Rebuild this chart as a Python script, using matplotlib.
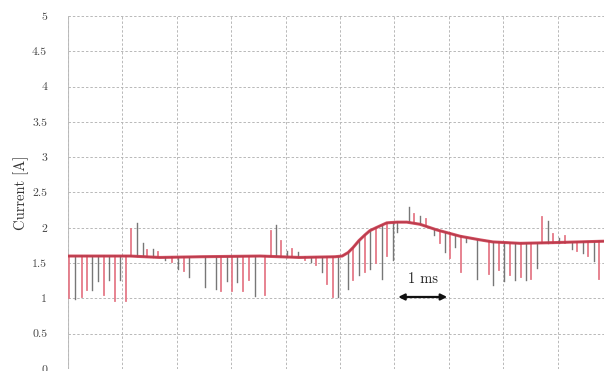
import matplotlib
matplotlib.use("Agg")
import matplotlib.pyplot as plt

# baseline of the current trace (time in ms, current in A)
base_t = [0.0, 1.14, 1.69, 2.43, 3.53, 4.26, 4.91, 5.04, 5.15, 5.24, 5.35, 5.46,
          5.55, 5.66, 5.86, 6.05, 6.23, 6.47, 6.78, 7.02, 7.21, 7.57, 7.81, 8.31,
          8.92, 9.85, 10.0]
base_i = [1.60, 1.60, 1.58, 1.59, 1.60, 1.58, 1.59, 1.60, 1.65, 1.72, 1.82, 1.90,
          1.96, 2.00, 2.07, 2.08, 2.08, 2.05, 1.97, 1.92, 1.88, 1.83, 1.80, 1.78,
          1.79, 1.81, 1.81]

# switching spikes: time, level they start from, tip value, trace (0 red, 1 dark)
spike_t = [0.02, 0.13, 0.25, 0.35, 0.45, 0.55, 0.66, 0.76, 0.86, 0.96, 1.06,
           1.15, 1.26, 1.37, 1.46, 1.56, 1.65,
           1.78, 1.92, 2.03, 2.13, 2.23,
           2.52, 2.72, 2.81, 2.92, 3.01, 3.11, 3.21, 3.33, 3.44, 3.62,
           3.73, 3.82, 3.92, 4.02, 4.12, 4.22,
           4.36, 4.46, 4.56, 4.66, 4.76, 4.87, 4.97,
           5.15, 5.24, 5.35, 5.46, 5.55, 5.66, 5.77, 5.86, 5.97, 6.05,
           6.26, 6.36, 6.47, 6.58,
           6.72, 6.83, 6.93, 7.02, 7.11, 7.22, 7.32, 7.51, 7.73, 7.82, 7.93,
           8.01, 8.12, 8.22, 8.33, 8.42, 8.52, 8.63,
           8.72, 8.82, 8.92, 9.03, 9.13,
           9.26, 9.36, 9.47, 9.56, 9.66, 9.77]
spike_base = [1.60, 1.60, 1.60, 1.60, 1.60, 1.60, 1.60, 1.60, 1.60, 1.60, 1.60,
              1.60, 1.60, 1.60, 1.59, 1.59, 1.58,
              1.58, 1.58, 1.58, 1.58, 1.58,
              1.59, 1.59, 1.59, 1.59, 1.59, 1.59, 1.59, 1.59, 1.60, 1.60,
              1.60, 1.60, 1.59, 1.59, 1.58, 1.58,
              1.58, 1.58, 1.58, 1.59, 1.59, 1.59, 1.59,
              1.65, 1.72, 1.82, 1.90, 1.96, 2.00, 2.04, 2.07, 2.08, 2.08,
              2.08, 2.07, 2.05, 2.02,
              1.98, 1.96, 1.94, 1.92, 1.90, 1.88, 1.86, 1.83, 1.81, 1.80, 1.80,
              1.79, 1.79, 1.79, 1.78, 1.78, 1.78, 1.79,
              1.79, 1.79, 1.79, 1.79, 1.79,
              1.80, 1.80, 1.80, 1.80, 1.80, 1.81]
spike_tip = [1.00, 0.99, 1.02, 1.12, 1.12, 1.24, 1.05, 1.26, 0.97, 1.26, 0.97,
             1.99, 2.07, 1.78, 1.68, 1.70, 1.66,
             1.54, 1.51, 1.42, 1.39, 1.31,
             1.16, 1.14, 1.10, 1.25, 1.11, 1.23, 1.11, 1.26, 1.03, 1.05,
             1.96, 2.04, 1.81, 1.67, 1.70, 1.66,
             1.54, 1.52, 1.47, 1.38, 1.21, 1.02, 1.02,
             1.14, 1.26, 1.33, 1.38, 1.41, 1.50, 1.27, 1.60, 1.54, 1.94,
             2.30, 2.20, 2.17, 2.12,
             1.90, 1.78, 1.66, 1.57, 1.73, 1.38, 1.80, 1.27, 1.35, 1.19, 1.40,
             1.24, 1.33, 1.26, 1.31, 1.26, 1.28, 1.43,
             2.15, 2.10, 1.91, 1.85, 1.88,
             1.70, 1.67, 1.64, 1.60, 1.53, 1.28]
spike_src = [0, 1, 0, 0, 1, 1, 0, 1, 0, 1, 0,
             0, 1, 1, 0, 1, 0,
             1, 0, 1, 0, 1,
             1, 1, 0, 1, 0, 1, 0, 0, 1, 0,
             0, 1, 0, 1, 0, 1,
             0, 1, 0, 1, 0, 0, 1,
             1, 0, 1, 0, 1, 0, 1, 0, 1, 1,
             1, 0, 1, 0,
             1, 0, 1, 0, 1, 0, 1, 1, 0, 1, 0,
             1, 0, 1, 0, 1, 0, 1,
             0, 1, 0, 1, 0,
             1, 0, 1, 0, 1, 0]

y_ticks = [0, 0.5, 1, 1.5, 2, 2.5, 3, 3.5, 4, 4.5, 5]
y_tick_labels = ["0", "0.5", "1", "1.5", "2", "2.5", "3", "3.5", "4", "4.5", "5"]

red = "#d03a4e"
red_light = "#e57a88"
dark = "#4a4a4a"

plt.rcParams["font.family"] = ["cmr10", "DejaVu Serif"]

fig = plt.figure(figsize=(6.04, 3.71), dpi=100)
ax = fig.add_axes([68 / 604, 2 / 371, 544 / 604, 353 / 371])

# spikes of both traces
for t, b, tip, src in zip(spike_t, spike_base, spike_tip, spike_src):
    if src == 0:
        ax.plot([t, t], [b, tip], color=red_light, lw=1.3, zorder=2)
    else:
        ax.plot([t, t], [b, tip], color=dark, lw=1.0, alpha=0.75, zorder=2)

# averaged current
ax.plot(base_t, base_i, color=dark, lw=1.2, zorder=3)
ax.plot(base_t, base_i, color=red, lw=2.2, alpha=0.85, zorder=4)

# 1 ms scale arrow
ax.annotate("", xy=(6.07, 1.02), xytext=(6.97, 1.02),
            arrowprops=dict(arrowstyle="<|-|>", color="#111111", lw=1.6,
                            mutation_scale=9, shrinkA=0, shrinkB=0), zorder=5)
ax.text(6.52, 1.27, "1 ms", ha="center", va="center", fontsize=10.5, color="#222222")

ax.set_xlim(0, 10)
ax.set_ylim(0, 5)
ax.set_xticks(range(0, 11))
ax.set_xticklabels([])
ax.set_yticks(y_ticks)
ax.set_yticklabels(y_tick_labels, fontsize=8.5, color="#444444")
ax.tick_params(axis="y", length=0, pad=15)
ax.tick_params(axis="x", length=0)
ax.grid(True, color="#b8b8b8", linestyle=(0, (2.5, 2)), lw=0.7)
for s in ax.spines.values():
    s.set_visible(False)
ax.axvline(0, color="#c0c0c0", lw=0.8, zorder=1)

ax.set_ylabel("Current [A]", fontsize=10.5, color="#333333", labelpad=2)

fig.savefig("out.png", dpi=100)
